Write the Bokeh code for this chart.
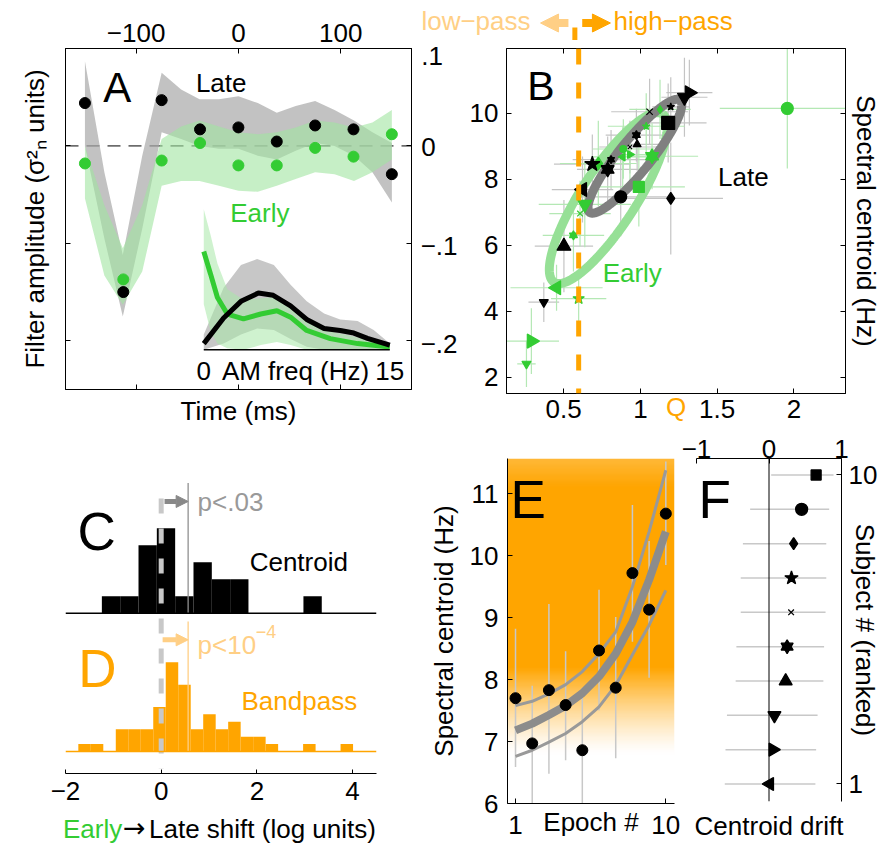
import numpy as np
from bokeh.plotting import figure
from bokeh.layouts import row, column
from bokeh.models import (Range1d, LinearAxis, FixedTicker, Label, Span, Arrow,
                          NormalHead, ColumnDataSource)
from bokeh.embed import file_html
from bokeh.resources import INLINE

FONT = "Liberation Sans"
FS = "26px"
GREEN = "#33CC33"
ORANGE = "#FFA500"
LORANGE = "#FFCF85"
NB = "\u00a0"

# ---------------- Panel A data ----------------
a_time = [-150, -112.5, -75, -37.5, 0, 37.5, 75, 112.5, 150]
a_late = [0.044, -0.150, 0.047, 0.017, 0.019, 0.0045, 0.021, 0.017, -0.029]
a_early = [-0.018, -0.137, -0.015, 0.003, -0.020, -0.020, -0.002, -0.011, 0.012]
a_band_t = [-150, -131, -113, -94, -75, -56, -38, -19, 0, 19, 37.5, 56, 75, 94, 113, 131, 150]
a_late_hi = [0.087, -0.027, -0.112, -0.010, 0.075, 0.058, 0.048, 0.048, 0.051, 0.044, 0.034, 0.041, 0.046, 0.037, 0.026, 0.014, 0.003]
a_late_lo = [0.000, -0.095, -0.175, -0.085, 0.014, 0.007, 0.000, -0.003, -0.003, -0.010, -0.014, -0.005, 0.003, 0.000, -0.010, -0.027, -0.058]
a_early_hi = [0.000, -0.061, -0.105, -0.061, 0.007, 0.020, 0.026, 0.020, 0.014, 0.012, 0.014, 0.019, 0.026, 0.024, 0.019, 0.024, 0.037]
a_early_lo = [-0.054, -0.133, -0.163, -0.129, -0.041, -0.036, -0.036, -0.041, -0.046, -0.047, -0.041, -0.034, -0.027, -0.029, -0.036, -0.027, -0.014]
a_xticks = [-100, 0, 100]
a_xlabels = ["−100", "0", "100"]
a_yticks = [-0.2, -0.1, 0, 0.1]
# right-hand labels are left-aligned in the original: pad the short ones
a_ylabels = ["−.2", "−.1", "0" + NB * 3, ".1" + NB * 2]

# inset (AM spectrum)
ins_black_f = [0, 1.6, 3.0, 4.4, 5.6, 7.0, 8.3, 9.7, 11.0, 12.1, 13.2, 15]
ins_black_u = [0.04, 0.21, 0.32, 0.375, 0.36, 0.29, 0.20, 0.14, 0.127, 0.11, 0.075, 0.03]
ins_green_f = [0, 0.55, 1.1, 1.9, 3.2, 4.6, 5.9, 7.0, 8.3, 10.2, 12.4, 15]
ins_green_u = [0.65, 0.50, 0.345, 0.236, 0.204, 0.236, 0.258, 0.215, 0.127, 0.073, 0.04, 0.018]
ins_gband_f = [0, 1.6, 3.0, 4.3, 5.65, 7.0, 8.3, 9.7, 11.0, 12.4, 13.7, 15]
ins_gband_hi = [0.10, 0.41, 0.56, 0.60, 0.56, 0.43, 0.32, 0.24, 0.20, 0.19, 0.13, 0.04]
ins_gband_lo = [0.0, 0.04, 0.10, 0.14, 0.13, 0.07, 0.02, 0.0, 0.0, 0.0, 0.0, 0.0]
ins_eband_f = [0, 0.55, 1.1, 1.9, 3.2, 4.6, 5.9, 7.0, 8.3, 10.2, 12.4, 15]
ins_eband_hi = [0.93, 0.76, 0.57, 0.40, 0.33, 0.34, 0.35, 0.28, 0.19, 0.12, 0.08, 0.04]
ins_eband_lo = [0.30, 0.12, 0.04, 0.01, 0.0, 0.03, 0.05, 0.03, 0.0, 0.0, 0.0, 0.0]
ins_fmin, ins_fmax = 0, 15

# ---------------- Panel B data ----------------
late_q = [1.287, 1.319, 1.198, 1.060, 1.181, 0.974, 0.932, 0.979, 0.809, 0.687, 0.787, 0.623, 0.872, 1.198, 0.502, 0.371]
late_c = [10.49, 10.63, 10.20, 10.05, 9.71, 9.34, 8.98, 9.06, 8.60, 8.46, 8.30, 7.69, 7.47, 7.42, 5.97, 4.27]
late_mk = ["tri_down", "tri_right", "star", "x", "square", "hexagram", "x", "tri_up", "hexagram", "star",
           "hexagram", "tri_left", "circle", "diamond", "tri_up", "tri_down"]
late_sz = [14, 14, 8, 9, 13, 8, 6, 8, 7, 16, 13, 14, 12, 12, 14, 9]
late_qerr = [0.15, 0.15, 0.12, 0.25, 0.25, 0.20, 0.20, 0.15, 0.25, 0.25, 0.20, 0.20, 0.30, 0.34, 0.19, 0.10]
late_cerr = [1.2, 1.0, 0.9, 1.0, 1.2, 0.8, 0.8, 0.8, 0.9, 0.9, 1.0, 1.0, 1.2, 1.7, 1.4, 0.6]

early_q = [1.957, 1.128, 1.038, 0.889, 0.885, 0.932, 1.076, 0.726, 0.990, 0.638, 0.607, 0.564, 0.454, 0.598, 0.290, 0.258]
early_c = [10.15, 10.12, 9.61, 8.92, 8.68, 8.75, 8.70, 8.48, 7.77, 7.24, 6.96, 6.30, 4.71, 4.38, 3.09, 2.40]
early_mk = ["circle", "diamond", "star", "circle", "tri_left", "tri_right", "hexagram", "diamond", "square",
            "tri_down", "x", "hexagram", "tri_left", "star", "tri_right", "tri_down"]
early_sz = [12, 8, 8, 7, 8, 8, 13, 13, 11, 14, 8, 8, 14, 12, 14, 9]
early_qerr = [0.44, 0.20, 0.25, 0.20, 0.20, 0.15, 0.30, 0.25, 0.30, 0.30, 0.20, 0.20, 0.30, 0.18, 0.18, 0.06]
early_cerr = [1.82, 0.9, 1.0, 0.9, 0.9, 0.9, 1.0, 1.3, 1.2, 1.3, 1.0, 1.1, 0.7, 0.7, 1.0, 0.7]

late_ell = dict(cx=0.964, cy=8.70, a=(0.295, 1.70), b=(0.079, -0.31))
early_ell = dict(cx=0.791, cy=7.43, a=(0.354, 2.55), b=(0.149, -0.469))
q_boundary = 0.598
b_xticks = [0.5, 1, 1.5, 2]
b_xlabels = ["0.5", "1", "1.5", "2"]
b_yticks = [2, 4, 6, 8, 10]
b_ylabels = ["2", "4", "6", "8", "10"]

# ---------------- Panels C / D data ----------------
c_edges = [-1.24 + 0.383 * k for k in range(13)]
c_counts = [1, 1, 4, 5, 1, 3, 2, 2, 0, 0, 0, 1]
d_edges = [-1.732 + 0.261 * k for k in range(23)]
d_counts = [1, 1, 0, 3, 3, 3, 6, 12, 9, 3, 5, 3, 4, 2, 2, 1, 0, 0, 1, 0, 0, 1]
cd_mean_shift = 0.563
cd_xticks = [-2, 0, 2, 4]
cd_xlabels = ["−2", "0", "2", "4"]

# ---------------- Panel E data ----------------
e_epoch = [1, 2, 3, 4, 5, 6, 7, 8, 9, 10]
e_cent = [7.70, 6.97, 7.83, 7.59, 6.86, 8.47, 7.87, 9.72, 9.13, 10.68]
e_lo = [6.59, 5.90, 6.48, 6.70, 5.90, 7.50, 6.73, 8.61, 8.03, 9.85]
e_hi = [8.82, 7.90, 9.22, 8.46, 7.87, 9.45, 9.01, 10.82, 10.24, 11.52]
e_fit = [7.18, 7.29, 7.43, 7.58, 7.78, 8.05, 8.42, 8.93, 9.61, 10.39]
e_fit_up = [7.58, 7.65, 7.77, 7.92, 8.13, 8.42, 8.77, 9.50, 10.39, 11.38]
e_fit_dn = [6.76, 6.86, 6.99, 7.13, 7.32, 7.56, 7.91, 8.40, 8.88, 9.44]
e_xticks = [1, 10]
e_xlabels = ["1", "10"]
e_yticks = [6, 7, 8, 9, 10, 11]
e_ylabels = ["6", "7", "8", "9", "10", "11"]

# ---------------- Panel F data ----------------
f_rank = [1, 2, 3, 4, 5, 6, 7, 8, 9, 10]
f_drift = [0.01, 0.053, 0.075, 0.23, 0.25, 0.305, 0.31, 0.34, 0.45, 0.65]
f_lo = [-0.61, -0.60, -0.58, -0.46, -0.45, -0.39, -0.39, -0.36, -0.26, 0.03]
f_hi = [0.64, 0.65, 0.67, 0.75, 0.76, 0.78, 0.79, 0.79, 0.83, 0.89]
f_mk = ["tri_left", "tri_right", "tri_down", "tri_up", "hexagram", "x", "star", "diamond", "circle", "square"]
f_sz = [13, 13, 13, 13, 12, 8, 14, 12, 12, 10]
f_xticks = [-1, 0, 1]
f_xlabels = ["−1", "0", "1"]
f_yticks = [1, 10]
f_ylabels = ["1", "10"]

# ======================================================
MK = {"circle": [("circle", 0.0)], "square": [("square", 0.0)], "diamond": [("diamond", 0.0)],
      "star": [("star", 0.0)], "x": [("x", 0.0)], "tri_up": [("triangle", 0.0)],
      "tri_down": [("inverted_triangle", 0.0)], "tri_right": [("triangle", -np.pi / 2)],
      "tri_left": [("triangle", np.pi / 2)],
      "hexagram": [("triangle", 0.0), ("inverted_triangle", 0.0)]}


def marker_source(xs, ys, kinds, sizes):
    d = dict(x=[], y=[], marker=[], angle=[], size=[])
    for x, y, k, s in zip(xs, ys, kinds, sizes):
        for m, a in MK[k]:
            d["x"].append(x)
            d["y"].append(y)
            d["marker"].append(m)
            d["angle"].append(a)
            d["size"].append(s)
    return ColumnDataSource(d)


def mk_fig(w, h, xr, yr, lb, rb, tb, bb, xloc="below", yloc="left"):
    p = figure(width=w, height=h, x_range=Range1d(*xr), y_range=Range1d(*yr),
               x_axis_location=xloc, y_axis_location=yloc,
               toolbar_location=None, output_backend="svg", frame_align=False,
               min_border_left=lb, min_border_right=rb, min_border_top=tb, min_border_bottom=bb)
    p.grid.visible = False
    p.outline_line_color = None
    p.background_fill_color = "white"
    p.border_fill_color = "white"
    return p


def setup_axis(ax, ticks, labels=None, standoff=0, tick_in=5, line=True, ticks_on=True,
               title=None, title_standoff=5, title_color="black"):
    ax.ticker = FixedTicker(ticks=ticks)
    ax.minor_tick_line_color = None
    ax.major_tick_in = tick_in
    ax.major_tick_out = 0
    ax.major_tick_line_color = "black" if ticks_on else None
    ax.axis_line_color = "black" if line else None
    ax.major_label_standoff = standoff
    ax.major_label_text_font = FONT
    if labels is None:
        ax.major_label_text_font_size = "0px"
        ax.major_label_text_color = None
    else:
        ax.major_label_text_font_size = FS
        ax.major_label_text_color = "black"
        ax.major_label_overrides = {t: l for t, l in zip(ticks, labels)}
    if title is not None:
        ax.axis_label = title
        ax.axis_label_text_font = FONT
        ax.axis_label_text_font_size = FS
        ax.axis_label_text_font_style = "normal"
        ax.axis_label_text_color = title_color
        ax.axis_label_standoff = title_standoff


def lab(p, x, y, text, size=FS, color="black", align="center", baseline="middle", angle=0.0,
        xr=None, yr=None, font=FONT):
    kw = {}
    if xr:
        kw["x_range_name"] = xr
    if yr:
        kw["y_range_name"] = yr
    p.add_layout(Label(x=x, y=y, text=text, text_font=font, text_font_size=size,
                       text_color=color, text_align=align, text_baseline=baseline,
                       angle=angle, **kw))


def strip(w, h, xr, yr):
    s = figure(width=w, height=h, x_range=Range1d(*xr), y_range=Range1d(*yr),
               x_axis_location=None, y_axis_location=None, toolbar_location=None,
               output_backend="svg", frame_align=False, min_border_left=0, min_border_right=0,
               min_border_top=0, min_border_bottom=0)
    s.grid.visible = False
    s.outline_line_color = None
    return s


# ======================= Panel A =======================
fa = mk_fig(417, 428, (-169, 169.2), (-0.25, 0.1), 65, 6, 48, 35, xloc="above", yloc="left")
fa.outline_line_color = "black"
setup_axis(fa.xaxis[0], a_xticks, a_xlabels, standoff=7)
setup_axis(fa.yaxis[0], a_yticks, title="Filter amplitude (σ²ₙ units)", title_standoff=16)
axb = LinearAxis()
setup_axis(axb, a_xticks, title="Time (ms)", title_standoff=6)
fa.add_layout(axb, "below")
axr = LinearAxis()
setup_axis(axr, a_yticks)
fa.add_layout(axr, "right")
fa.extra_x_ranges = {"ix": Range1d(-11.15, 16.75)}
fa.extra_y_ranges = {"iy": Range1d(-0.264, 1.995)}

fa.add_layout(Span(location=0, dimension="width", line_color="black", line_width=1,
                   line_dash="13 8", level="underlay"))
fa.varea(x=a_band_t, y1=a_late_lo, y2=a_late_hi, fill_color="#A8A8A8", fill_alpha=0.7)
fa.varea(x=a_band_t, y1=a_early_lo, y2=a_early_hi, fill_color="#A0E4A0", fill_alpha=0.6)
fa.scatter(a_time, a_early, size=11, color=GREEN)
fa.scatter(a_time, a_late, size=11, color="black")

fa.varea(x=ins_gband_f, y1=ins_gband_lo, y2=ins_gband_hi, fill_color="#B4B4B4", fill_alpha=0.75,
         x_range_name="ix", y_range_name="iy")
fa.varea(x=ins_eband_f, y1=ins_eband_lo, y2=ins_eband_hi, fill_color="#A8E8A8", fill_alpha=0.55,
         x_range_name="ix", y_range_name="iy")
fa.line(ins_green_f, ins_green_u, line_color=GREEN, line_width=5, x_range_name="ix", y_range_name="iy")
fa.line(ins_black_f, ins_black_u, line_color="black", line_width=5, x_range_name="ix", y_range_name="iy")
fa.segment(x0=[ins_fmin], y0=[0], x1=[ins_fmax], y1=[0], line_color="black", line_width=1.5,
           x_range_name="ix", y_range_name="iy")
lab(fa, ins_fmin, -0.139, "0", xr="ix", yr="iy")
lab(fa, ins_fmax, -0.139, "15", xr="ix", yr="iy")
lab(fa, 7.4, -0.139, "AM freq (Hz)", xr="ix", yr="iy")
lab(fa, -118.3, 0.0604, "A", size="42px")
lab(fa, -16.8, 0.0647, "Late")
lab(fa, 21.0, -0.0687, "Early", color=GREEN)

# ======================= strip above B =======================
sb = strip(466, 40, (-0.4062, 2.5676), (40, 0))
sb.segment(x0=[q_boundary], y0=[27], x1=[q_boundary], y1=[40], line_color=ORANGE, line_width=5)
sb.add_layout(Arrow(end=NormalHead(size=18, fill_color=LORANGE, line_color=LORANGE),
                    x_start=0.557, y_start=22.5, x_end=0.379, y_end=22.5,
                    line_color=LORANGE, line_width=8))
sb.add_layout(Arrow(end=NormalHead(size=18, fill_color=ORANGE, line_color=ORANGE),
                    x_start=0.645, y_start=22.5, x_end=0.825, y_end=22.5,
                    line_color=ORANGE, line_width=8))
lab(sb, 0.315, 20, "low−pass", color=LORANGE, align="right")
lab(sb, 0.845, 20, "high−pass", color=ORANGE, align="left")

# ======================= Panel B =======================
fb = mk_fig(466, 388, (0.128, 2.336), (1.5, 11.97), 84, 36, 8, 35)
fb.outline_line_color = "black"
setup_axis(fb.xaxis[0], b_xticks, b_xlabels, standoff=6, title="Q", title_standoff=-29,
           title_color=ORANGE)
setup_axis(fb.yaxis[0], b_yticks, b_ylabels, standoff=8)
fb.extra_y_ranges = {"a": Range1d(-0.25, 0.1)}
ax_a = LinearAxis(y_range_name="a")
setup_axis(ax_a, a_yticks, a_ylabels, standoff=9, line=False, ticks_on=False)
fb.add_layout(ax_a, "left")
axt = LinearAxis()
setup_axis(axt, b_xticks)
fb.add_layout(axt, "above")
axr2 = LinearAxis()
setup_axis(axr2, b_yticks, title="Spectral centroid (Hz)", title_standoff=5)
fb.add_layout(axr2, "right")

lq, lc = np.array(late_q), np.array(late_c)
eq, ec = np.array(early_q), np.array(early_c)
fb.segment(x0=lq - np.array(late_qerr), y0=lc, x1=lq + np.array(late_qerr), y1=lc,
           line_color="#C4C4C4", line_width=1.2)
fb.segment(x0=lq, y0=lc - np.array(late_cerr), x1=lq, y1=lc + np.array(late_cerr),
           line_color="#C4C4C4", line_width=1.2)
fb.segment(x0=eq - np.array(early_qerr), y0=ec, x1=eq + np.array(early_qerr), y1=ec,
           line_color="#B4E8B4", line_width=1.2)
fb.segment(x0=eq, y0=ec - np.array(early_cerr), x1=eq, y1=ec + np.array(early_cerr),
           line_color="#B4E8B4", line_width=1.2)

tt = np.linspace(0, 2 * np.pi, 240)
for ell, col in ((early_ell, "#96E096"), (late_ell, "#808080")):
    ex = ell["cx"] + ell["a"][0] * np.cos(tt) + ell["b"][0] * np.sin(tt)
    ey = ell["cy"] + ell["a"][1] * np.cos(tt) + ell["b"][1] * np.sin(tt)
    fb.line(ex, ey, line_color=col, line_width=9)

fb.scatter("x", "y", marker="marker", angle="angle", size="size",
           source=marker_source(early_q, early_c, early_mk, early_sz),
           fill_color=GREEN, line_color=GREEN, line_width=1.2)
fb.scatter("x", "y", marker="marker", angle="angle", size="size",
           source=marker_source(late_q, late_c, late_mk, late_sz),
           fill_color="black", line_color="black", line_width=1.2)
fb.add_layout(Span(location=q_boundary, dimension="height", line_color=ORANGE, line_width=5,
                   line_dash="16 18"))
lab(fb, 0.353, 10.83, "B", size="41px")
lab(fb, 1.671, 8.075, "Late")
lab(fb, 0.947, 5.15, "Early", color=GREEN)

# ======================= Panels C / D =======================
fcd = mk_fig(425, 382, (-2, 4.5), (-2.96, 36.74), 65, 49, 50, 37, xloc="below", yloc=None)
fcd.extra_y_ranges = {"c": Range1d(-9.43, 7.92)}
setup_axis(fcd.xaxis[0], cd_xticks, cd_xlabels, standoff=8, tick_in=4)
fcd.quad(left=c_edges[:-1], right=c_edges[1:], bottom=0, top=c_counts, y_range_name="c",
         fill_color="black", line_color=None)
fcd.quad(left=d_edges[:-1], right=d_edges[1:], bottom=0, top=d_counts,
         fill_color=ORANGE, line_color=None)
fcd.add_layout(Span(location=0, dimension="width", y_range_name="c", line_color="black", line_width=1.5))
fcd.add_layout(Span(location=0, dimension="width", line_color=ORANGE, line_width=1.5))
fcd.segment(x0=[cd_mean_shift], y0=[0], x1=[cd_mean_shift], y1=[7.65], y_range_name="c",
            line_color="#909090", line_width=1.3)
fcd.segment(x0=[cd_mean_shift], y0=[0], x1=[cd_mean_shift], y1=[17.5],
            line_color=LORANGE, line_width=1.3)
fcd.segment(x0=[0], y0=[34.05], x1=[0], y1=[-2.33], line_color="#C8C8C8", line_width=5,
            line_dash="15 15")
fcd.add_layout(Arrow(end=NormalHead(size=12, fill_color="#888888", line_color="#888888"),
                     x_start=0.07, y_start=6.57, x_end=cd_mean_shift, y_end=6.57,
                     y_range_name="c", line_color="#888888", line_width=5))
fcd.add_layout(Arrow(end=NormalHead(size=12, fill_color=LORANGE, line_color=LORANGE),
                     x_start=0.03, y_start=15.03, x_end=cd_mean_shift, y_end=15.03,
                     line_color=LORANGE, line_width=5))
lab(fcd, 0.76, 6.53, "p<.03", color="#999999", align="left", yr="c")
lab(fcd, 0.76, 14.4, "p<10", color=LORANGE, align="left")
lab(fcd, 1.977, 16.15, "−4", size="18px", color=LORANGE, align="left")
lab(fcd, -1.349, 4.81, "C", size="53px", yr="c")
lab(fcd, -1.332, 11.17, "D", size="53px", color=ORANGE)
lab(fcd, 2.876, 2.98, "Centroid", yr="c")
lab(fcd, 2.887, 6.86, "Bandpass", color=ORANGE)

scd = strip(425, 33, (0, 425), (843, 810))
lab(scd, 121.7, 828.3, "Early", color=GREEN, align="right")
lab(scd, 122.5, 827.0, "→", size="27px", align="left", font="DejaVu Sans")
lab(scd, 148.5, 828.3, "Late shift (log units)", align="left")

# ======================= Panel E =======================
E_X0, E_X1, E_Y0, E_Y1 = 0.52, 10.52, 6.0, 11.57
fe = mk_fig(255, 415, (E_X0, E_X1), (E_Y0, E_Y1), 76, 6, 30, 40)
setup_axis(fe.xaxis[0], e_xticks, e_xlabels, standoff=12, title="Epoch #", title_standoff=-30)
setup_axis(fe.yaxis[0], e_yticks, e_ylabels, standoff=9, title="Spectral centroid (Hz)",
           title_standoff=8)
n = 300
yc = E_Y0 + (np.arange(n) + 0.5) * (E_Y1 - E_Y0) / n
al = np.clip((yc - 6.8) / (8.2 - 6.8), 0, 1) ** 1.3
orange = np.array([255, 165, 0], dtype=float)
white = np.array([255, 255, 255], dtype=float)
rgb = white[None, :] * (1 - al[:, None]) + orange[None, :] * al[:, None]
tl = np.clip((yc - 11.1) / (E_Y1 - 11.1), 0, 1) * 0.22
rgb = rgb * (1 - tl[:, None]) + white[None, :] * tl[:, None]
img = np.zeros((n, 1), dtype=np.uint32)
view = img.view(dtype=np.uint8).reshape((n, 1, 4))
view[:, 0, 0] = rgb[:, 0].astype(np.uint8)
view[:, 0, 1] = rgb[:, 1].astype(np.uint8)
view[:, 0, 2] = rgb[:, 2].astype(np.uint8)
view[:, 0, 3] = 255
fe.image_rgba(image=[img], x=E_X0, y=E_Y0, dw=E_X1 - E_X0, dh=E_Y1 - E_Y0)
fe.segment(x0=e_epoch, y0=e_lo, x1=e_epoch, y1=e_hi, line_color="#C8C8C8", line_width=1.5)
fe.line(e_epoch, e_fit_up, line_color="#999999", line_width=3)
fe.line(e_epoch, e_fit_dn, line_color="#999999", line_width=3)
fe.line(e_epoch, e_fit, line_color="#8C8C8C", line_width=8)
fe.scatter(e_epoch, e_cent, size=11, color="black")
lab(fe, 1.76, 10.91, "E", size="53px")

# ======================= Panel F =======================
ff = mk_fig(203, 415, (-1, 1), (0.49, 10.48), 16, 36, 30, 40, xloc="above", yloc="right")
setup_axis(ff.xaxis[0], f_xticks, f_xlabels, standoff=1)
setup_axis(ff.yaxis[0], f_yticks, f_ylabels, standoff=7, title="Subject # (ranked)",
           title_standoff=-30)
axfb = LinearAxis()
setup_axis(axfb, f_xticks, line=False, ticks_on=False, title="Centroid drift", title_standoff=9)
ff.add_layout(axfb, "below")
ff.add_layout(Span(location=0, dimension="height", line_color="black", line_width=1))
ff.segment(x0=f_lo, y0=f_rank, x1=f_hi, y1=f_rank, line_color="#C8C8C8", line_width=1.5)
ff.scatter("x", "y", marker="marker", angle="angle", size="size",
           source=marker_source(f_drift, f_rank, f_mk, f_sz),
           fill_color="black", line_color="black", line_width=1.3)
lab(ff, -0.748, 9.30, "F", size="53px")

layout = column(row(fa, column(sb, fb)), row(column(fcd, scd), fe, ff))
open("out.html", "w").write(file_html(layout, INLINE, "figure"))
